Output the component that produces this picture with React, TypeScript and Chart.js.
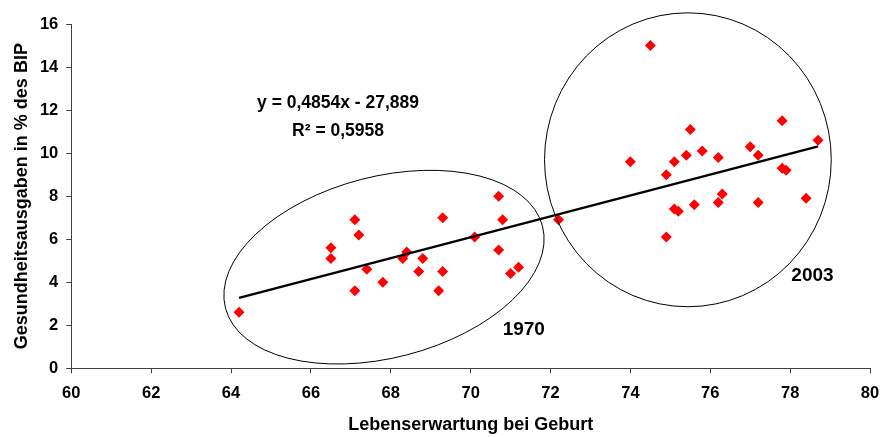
import React, { useEffect, useRef } from "react";
import { Chart, registerables } from "chart.js";

Chart.register(...registerables);

// Lebenserwartung bei Geburt (x) / Gesundheitsausgaben in % des BIP (y)
const lifeExp1970 = [64.2, 66.5, 66.5, 67.1, 67.2, 67.1, 67.4, 67.8, 68.4, 68.3, 68.8, 68.7, 69.3, 69.3, 69.2, 70.1, 70.7, 70.8, 70.7, 71.2, 71.0, 72.2];
const health1970 = [2.6, 5.6, 5.1, 6.9, 6.2, 3.6, 4.6, 4.0, 5.4, 5.1, 5.1, 4.5, 7.0, 4.5, 3.6, 6.1, 8.0, 6.9, 5.5, 4.7, 4.4, 6.9];
const lifeExp2003 = [74.5, 74.0, 75.5, 75.1, 75.4, 75.8, 76.2, 74.9, 77.0, 77.2, 77.8, 78.7, 77.8, 77.9, 76.3, 76.2, 77.2, 78.4, 75.6, 75.1, 75.2, 74.9];
const health2003 = [15.0, 9.6, 11.1, 9.6, 9.9, 10.1, 9.8, 9.0, 10.3, 9.9, 11.5, 10.6, 9.3, 9.2, 8.1, 7.7, 7.7, 7.9, 7.6, 7.4, 7.3, 6.1];

// Linear trendline shown in the chart
const trendSlope = 0.4854;
const trendIntercept = -27.889;
const trendR2 = 0.5958;

const xAxisTitle = "Lebenserwartung bei Geburt";
const yAxisTitle = "Gesundheitsausgaben in % des BIP";

// Annotation geometry (data coordinates; radii in x-axis units)
const groupEllipses = [
  { label: "1970", cx: 67.83, cy: 4.7, rx: 4.1, ry: 2.27, angle: -14.5, lx: 71.33, ly: 1.78 },
  { label: "2003", cx: 75.44, cy: 9.69, rx: 3.59, ry: 3.68, angle: 0, lx: 78.56, ly: 4.32 },
];
const equationPos = { x: 66.68, y1: 12.3, y2: 11.0 };

const FONT_FAMILY = "'Liberation Sans', Arial, Helvetica, sans-serif";
const AXIS_COLOR = "#404040";

const fmt = (v: number) => String(v).replace(".", ",");

const annotationPlugin = {
  id: "groupAnnotations",
  afterDraw(chart: any) {
    const { ctx, scales } = chart;
    const xs = scales.x;
    const ys = scales.y;
    const pxPerUnit = Math.abs(xs.getPixelForValue(61) - xs.getPixelForValue(60));
    ctx.save();
    ctx.strokeStyle = "#000";
    ctx.lineWidth = 1;
    groupEllipses.forEach((e) => {
      ctx.beginPath();
      ctx.ellipse(
        xs.getPixelForValue(e.cx),
        ys.getPixelForValue(e.cy),
        e.rx * pxPerUnit,
        e.ry * pxPerUnit,
        (e.angle * Math.PI) / 180,
        0,
        Math.PI * 2
      );
      ctx.stroke();
    });
    ctx.fillStyle = "#000";
    ctx.textAlign = "center";
    ctx.textBaseline = "middle";
    ctx.font = `bold 19px ${FONT_FAMILY}`;
    groupEllipses.forEach((e) => {
      ctx.fillText(e.label, xs.getPixelForValue(e.lx), ys.getPixelForValue(e.ly));
    });
    ctx.font = `bold 17.5px ${FONT_FAMILY}`;
    const eq = `y = ${fmt(trendSlope)}x ${trendIntercept < 0 ? "-" : "+"} ${fmt(Math.abs(trendIntercept))}`;
    ctx.fillText(eq, xs.getPixelForValue(equationPos.x), ys.getPixelForValue(equationPos.y1));
    ctx.fillText(`R² = ${fmt(trendR2)}`, xs.getPixelForValue(equationPos.x), ys.getPixelForValue(equationPos.y2));
    ctx.restore();
  },
};

export default function App() {
  const canvasRef = useRef<HTMLCanvasElement | null>(null);

  useEffect(() => {
    if (!canvasRef.current) return;
    const allX = [...lifeExp1970, ...lifeExp2003];
    const minX = Math.min(...allX);
    const maxX = Math.max(...allX);
    const trendData = [
      { x: minX, y: trendSlope * minX + trendIntercept },
      { x: maxX, y: trendSlope * maxX + trendIntercept },
    ];
    const pts1970 = lifeExp1970.map((x, i) => ({ x, y: health1970[i] }));
    const pts2003 = lifeExp2003.map((x, i) => ({ x, y: health2003[i] }));

    const tickFont = { family: FONT_FAMILY, size: 16.5, weight: "bold" as const };
    const titleFont = { family: FONT_FAMILY, size: 18, weight: "bold" as const };

    const chart = new Chart(canvasRef.current, {
      type: "scatter",
      data: {
        datasets: [
          {
            label: "Trend",
            data: trendData,
            showLine: true,
            borderColor: "#000",
            borderWidth: 2.5,
            pointRadius: 0,
            fill: false,
          },
          {
            label: "1970",
            data: pts1970,
            pointStyle: "rectRot",
            pointRadius: 5.5,
            pointBorderWidth: 0,
            backgroundColor: "#FF0000",
            borderColor: "#FF0000",
          },
          {
            label: "2003",
            data: pts2003,
            pointStyle: "rectRot",
            pointRadius: 5.5,
            pointBorderWidth: 0,
            backgroundColor: "#FF0000",
            borderColor: "#FF0000",
          },
        ],
      },
      options: {
        animation: false,
        responsive: false,
        events: [],
        layout: { padding: { left: 0, right: 12, top: 24, bottom: 0 } },
        plugins: {
          legend: { display: false },
          tooltip: { enabled: false },
        },
        scales: {
          x: {
            type: "linear",
            min: 60,
            max: 80,
            ticks: { stepSize: 2, font: tickFont, color: "#000", padding: 10 },
            grid: { drawOnChartArea: false, drawTicks: true, tickLength: 5, color: AXIS_COLOR },
            border: { display: true, color: AXIS_COLOR, width: 1 },
            title: {
              display: true,
              text: xAxisTitle,
              font: titleFont,
              color: "#000",
              padding: { top: 0, bottom: 1 },
            },
            afterFit: (s: any) => {
              s.height = 68.7;
              s.paddingLeft = 0;
              s.paddingRight = 0;
            },
          },
          y: {
            type: "linear",
            min: 0,
            max: 16,
            ticks: { stepSize: 2, font: tickFont, color: "#000", padding: 8 },
            grid: { drawOnChartArea: false, drawTicks: true, tickLength: 5, color: AXIS_COLOR },
            border: { display: true, color: AXIS_COLOR, width: 1 },
            title: {
              display: true,
              text: yAxisTitle,
              font: titleFont,
              color: "#000",
              padding: { top: 11, bottom: 0 },
            },
            afterFit: (s: any) => {
              s.width = 71.3;
              s.paddingTop = 0;
              s.paddingBottom = 0;
            },
          },
        },
      },
      plugins: [annotationPlugin],
    });
    return () => chart.destroy();
  }, []);

  return (
    <div style={{ position: "absolute", left: 0, top: 0, width: 882, height: 437, background: "#fff" }}>
      <canvas ref={canvasRef} width={882} height={437} style={{ display: "block" }} />
    </div>
  );
}
